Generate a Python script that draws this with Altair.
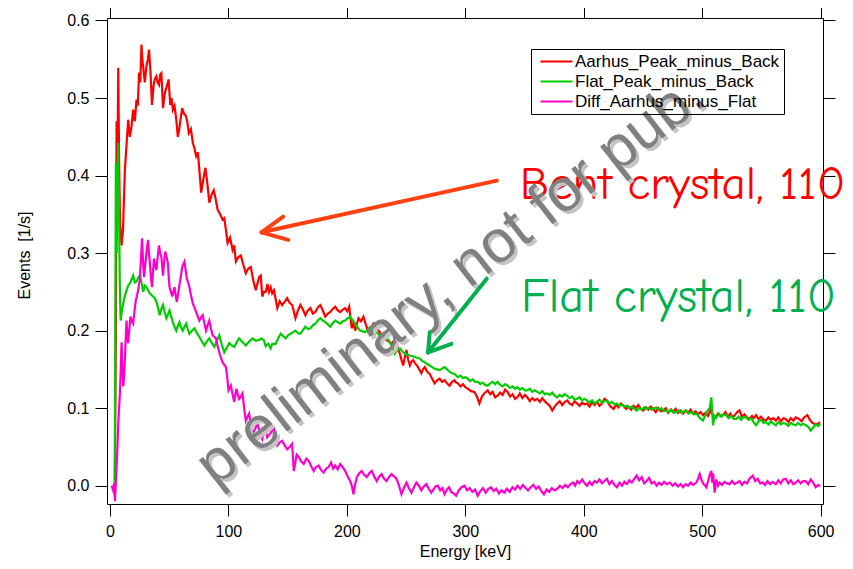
import altair as alt
import pandas as pd

SERIES = ["Aarhus_Peak_minus_Back", "Flat_Peak_minus_Back", "Diff_Aarhus_minus_Flat"]
COLORS = ["#ff0000", "#00cc00", "#ff00cc"]

aarhus = [
    (4, -0.01), (5, 0.20), (5.6, 0.47), (6.3, 0.40), (7, 0.539), (7.7, 0.42), (8.5, 0.34), (9.8, 0.31),
    (11, 0.33), (12.6, 0.407), (14, 0.44), (15.4, 0.472), (16.8, 0.45), (18.2, 0.463), (19.6, 0.485),
    (21, 0.47), (22.4, 0.498), (23.5, 0.49), (24.6, 0.533), (25.6, 0.52), (26.6, 0.569), (27.3, 0.55),
    (28, 0.541), (29.4, 0.52), (30.8, 0.541), (32, 0.55), (33, 0.5625), (34.1, 0.537), (35.5, 0.491),
    (36.9, 0.517), (38, 0.525), (39.2, 0.528), (40.3, 0.52), (41.4, 0.517), (42.4, 0.53), (43.4, 0.532),
    (44.8, 0.487), (45.8, 0.50), (46.7, 0.509), (48, 0.515), (49.5, 0.524), (50.9, 0.491), (52, 0.50),
    (53.1, 0.485), (54.5, 0.49), (56, 0.472), (57.3, 0.45), (58.5, 0.46), (59.8, 0.475), (61, 0.487),
    (62.4, 0.48), (63.8, 0.478), (65.2, 0.47), (66.6, 0.455), (68.3, 0.46), (70, 0.442), (71.4, 0.435),
    (72.8, 0.425), (74.2, 0.43), (75.5, 0.407), (77, 0.378), (78.8, 0.395), (80.6, 0.41), (82.2, 0.39),
    (83.9, 0.365), (85.7, 0.375), (87.6, 0.381), (89.2, 0.37), (90.9, 0.356), (93, 0.35), (95.1, 0.343),
    (96.5, 0.345), (97.9, 0.33), (99.3, 0.313), (101.4, 0.32), (103.5, 0.304), (104.9, 0.31),
    (106.3, 0.289), (108.4, 0.295), (110.5, 0.297), (112.6, 0.285), (114.7, 0.274), (116.8, 0.28),
    (118.9, 0.282), (121, 0.265), (123.1, 0.252), (125.9, 0.269), (127.3, 0.271), (128.6, 0.244),
    (130, 0.25), (131.5, 0.25), (133, 0.26), (134.3, 0.25), (135.7, 0.256), (137, 0.248), (138.5, 0.252),
    (140, 0.24), (141.3, 0.229), (143.3, 0.238), (145.4, 0.233), (147.5, 0.237), (149.6, 0.242),
    (151.7, 0.236), (153.8, 0.233), (155.2, 0.225), (156.6, 0.216), (158.7, 0.226), (160.8, 0.233),
    (163, 0.227), (165, 0.22), (167.1, 0.226), (169.2, 0.229), (171.3, 0.222), (173.5, 0.224),
    (175.5, 0.230), (177.6, 0.233), (179.7, 0.226), (181.8, 0.218), (184, 0.222), (186, 0.224),
    (188.1, 0.228), (190.2, 0.231), (192.3, 0.226), (194.4, 0.224), (196.5, 0.227), (198.6, 0.229),
    (200.3, 0.225), (202, 0.231), (203.1, 0.215), (204.2, 0.203), (205.6, 0.21), (207, 0.2),
    (208.4, 0.208), (209.8, 0.216), (212, 0.212), (214, 0.218), (216, 0.208), (218.2, 0.198),
    (220.3, 0.204), (222.4, 0.209), (223.8, 0.206), (225.2, 0.203), (227.3, 0.199), (229.4, 0.194),
    (231.5, 0.19), (233.5, 0.1875), (235.6, 0.186), (237.7, 0.183), (239.8, 0.187), (241.9, 0.185),
    (243.3, 0.176), (244.8, 0.17), (246.2, 0.162), (247.5, 0.155), (248.9, 0.165), (250.3, 0.175),
    (251.7, 0.163), (253.2, 0.155), (254.6, 0.16), (256, 0.162), (258, 0.157), (260.1, 0.153),
    (261.5, 0.149), (262.9, 0.145), (264.3, 0.15), (265.8, 0.153), (267.9, 0.147), (270, 0.144),
    (272, 0.138), (274.1, 0.132), (276.2, 0.136), (278.3, 0.138), (280.4, 0.134), (282.5, 0.136),
    (284.6, 0.132), (286.7, 0.129), (288.8, 0.134), (290.9, 0.136), (292.3, 0.133), (293.7, 0.132),
    (296, 0.128), (298, 0.131), (300, 0.127), (302.1, 0.125), (304.9, 0.122), (307.7, 0.121),
    (309.8, 0.115), (311.9, 0.106), (314, 0.115), (316.5, 0.12), (318.9, 0.123), (321, 0.118),
    (323, 0.121), (325.2, 0.114), (327.3, 0.116), (329.4, 0.12), (331.5, 0.117), (333.6, 0.124),
    (335.7, 0.121), (337.8, 0.115), (339.9, 0.118), (342, 0.112), (344, 0.114), (346, 0.119),
    (348.2, 0.113), (350.3, 0.117), (352.4, 0.114), (354.5, 0.109), (356.6, 0.113), (358.7, 0.11),
    (360.8, 0.112), (363, 0.108), (365, 0.113), (367, 0.109), (369.2, 0.106), (371.3, 0.103),
    (373.4, 0.097), (375.5, 0.102), (377.6, 0.106), (379.7, 0.109), (381.8, 0.104), (383.9, 0.108),
    (386, 0.11), (388, 0.106), (390.2, 0.104), (392.3, 0.109), (394.4, 0.106), (396.5, 0.103),
    (398.6, 0.107), (400.7, 0.105), (402.8, 0.106), (404.9, 0.102), (407, 0.108), (409.1, 0.104),
    (411.2, 0.108), (413.3, 0.103), (415.4, 0.106), (417.5, 0.112), (419.6, 0.11), (421.7, 0.104),
    (423.5, 0.101), (425.2, 0.099), (427.3, 0.104), (429.4, 0.101), (431.5, 0.106), (433.6, 0.103),
    (435.7, 0.099), (437.8, 0.102), (440, 0.098), (442, 0.103), (444, 0.1), (446, 0.104),
    (448.2, 0.099), (450.3, 0.097), (452.4, 0.101), (454.5, 0.098), (456.6, 0.102), (458.7, 0.099),
    (460.8, 0.095), (463, 0.1), (465, 0.096), (467.1, 0.097), (469.2, 0.1), (471.3, 0.094),
    (473.4, 0.098), (475.5, 0.095), (477.6, 0.099), (479.7, 0.094), (481.8, 0.097), (483.9, 0.093),
    (486, 0.097), (488.1, 0.094), (490.2, 0.098), (492.3, 0.093), (494.4, 0.096), (496.5, 0.092),
    (498.6, 0.095), (500.7, 0.091), (502.8, 0.094), (504.9, 0.09), (507, 0.097), (509.1, 0.091),
    (511.2, 0.088), (513.3, 0.093), (515.4, 0.09), (517.5, 0.091), (519.6, 0.095), (521.7, 0.089),
    (523.8, 0.093), (525.9, 0.088), (528, 0.092), (529.5, 0.095), (531.5, 0.097), (533.5, 0.089),
    (535.7, 0.092), (537.8, 0.088), (539.9, 0.086), (542, 0.09), (543.5, 0.087), (545.5, 0.091),
    (547.5, 0.086), (549.6, 0.089), (551.7, 0.085), (553.8, 0.084), (555.9, 0.088), (558, 0.085),
    (560.1, 0.087), (562.2, 0.084), (564.3, 0.088), (566.4, 0.083), (568.5, 0.087), (570.6, 0.086),
    (572.7, 0.082), (574.8, 0.087), (576.9, 0.084), (579, 0.088), (581.8, 0.086), (583.9, 0.083),
    (586, 0.088), (588.8, 0.091), (590.9, 0.085), (593, 0.081), (595.8, 0.079), (598, 0.08), (599.5, 0.082),
]

flat = [
    (4, -0.01), (5, 0.416), (5.6, 0.30), (6.3, 0.38), (7, 0.442), (7.7, 0.35), (8.3, 0.26), (9, 0.213),
    (10, 0.225), (11.2, 0.235), (12.6, 0.245), (14, 0.252), (15.4, 0.258), (16.8, 0.261), (18.2, 0.266),
    (19.6, 0.271), (21, 0.262), (22.4, 0.263), (23.8, 0.268), (25.2, 0.271), (26.6, 0.262), (28, 0.25),
    (29.4, 0.258), (30.8, 0.256), (32.2, 0.252), (33.6, 0.248), (35, 0.246), (36.4, 0.244), (37.8, 0.242),
    (39.2, 0.237), (40.6, 0.229), (42, 0.22), (43.4, 0.228), (44.8, 0.233), (46.2, 0.224), (47.6, 0.216),
    (49, 0.221), (50.3, 0.226), (51.7, 0.218), (53.1, 0.211), (54.5, 0.205), (56, 0.2), (57.3, 0.206),
    (58.7, 0.211), (60.1, 0.204), (61.5, 0.2), (62.9, 0.205), (64.3, 0.209), (65.7, 0.202), (67.1, 0.196),
    (69.2, 0.2), (71.3, 0.203), (73.4, 0.197), (75.5, 0.192), (77.6, 0.186), (79.7, 0.181), (81.8, 0.186),
    (83.9, 0.19), (86, 0.184), (88.1, 0.179), (90.2, 0.187), (92.3, 0.194), (94.4, 0.182), (96.5, 0.172),
    (98.6, 0.178), (100.7, 0.184), (102.8, 0.181), (104.9, 0.179), (107, 0.185), (109, 0.19),
    (111.9, 0.185), (114.7, 0.181), (117.5, 0.186), (120.3, 0.19), (123.1, 0.187), (125.9, 0.188),
    (128, 0.19), (130, 0.1875), (131.5, 0.18), (133.6, 0.183), (135.7, 0.177), (137, 0.183),
    (139.9, 0.183), (142, 0.19), (144.1, 0.196), (146.2, 0.193), (148.3, 0.19), (150.4, 0.194),
    (152.5, 0.196), (154.6, 0.198), (156.6, 0.2), (158.7, 0.197), (160.8, 0.196), (163, 0.201),
    (165, 0.205), (167.1, 0.202), (169.2, 0.203), (171.3, 0.207), (173.5, 0.209), (175.5, 0.213),
    (177.6, 0.216), (179.7, 0.213), (181.8, 0.211), (184, 0.208), (186, 0.205), (188.1, 0.21),
    (190.2, 0.213), (192.3, 0.211), (194.4, 0.209), (196.5, 0.212), (198.6, 0.213), (200.7, 0.216),
    (202.8, 0.218), (205, 0.213), (207, 0.209), (209.1, 0.204), (211.2, 0.2), (213.3, 0.199),
    (215.4, 0.198), (217.5, 0.201), (219, 0.204), (221, 0.2), (223, 0.197), (225.2, 0.198),
    (227.3, 0.194), (229.4, 0.19), (231.5, 0.193), (233.5, 0.192), (235.6, 0.186), (237.7, 0.181),
    (239.1, 0.176), (240.5, 0.17), (242.6, 0.175), (244.8, 0.177), (246.9, 0.173), (249, 0.17),
    (251.1, 0.169), (253.2, 0.168), (255.3, 0.167), (257.3, 0.166), (259.4, 0.165), (261.5, 0.164),
    (263.6, 0.161), (265.8, 0.159), (267.9, 0.157), (270, 0.155), (272, 0.153), (274.1, 0.151),
    (276.2, 0.15), (278.3, 0.149), (280.4, 0.151), (282.5, 0.153), (284.6, 0.15), (286.7, 0.147),
    (288.8, 0.145), (290.9, 0.144), (293.7, 0.14), (296, 0.142), (298, 0.139), (300, 0.14),
    (302.1, 0.138), (304, 0.135), (306.3, 0.137), (308.4, 0.134), (310.5, 0.134), (312.6, 0.131),
    (314.7, 0.133), (316.8, 0.13), (318.9, 0.129), (321, 0.132), (323.1, 0.134), (325.2, 0.131),
    (327.3, 0.134), (329.4, 0.13), (331.5, 0.128), (333.6, 0.131), (335.7, 0.129), (337.8, 0.126),
    (340, 0.128), (342, 0.125), (344, 0.127), (346, 0.124), (348.2, 0.126), (350.3, 0.123),
    (352.4, 0.123), (354.5, 0.125), (356.6, 0.121), (358.7, 0.123), (360.8, 0.121), (363, 0.119),
    (365, 0.122), (367, 0.118), (369.2, 0.119), (371.3, 0.117), (373.4, 0.12), (375.5, 0.116),
    (377.6, 0.114), (379.7, 0.117), (381.8, 0.115), (383.9, 0.118), (386, 0.116), (388, 0.113),
    (390.2, 0.115), (392.3, 0.111), (394.4, 0.112), (396.5, 0.114), (398.6, 0.11), (400.7, 0.112),
    (402.8, 0.11), (404.9, 0.107), (407, 0.11), (409.1, 0.106), (411.2, 0.108), (413.3, 0.111),
    (415.4, 0.107), (417.5, 0.109), (419.6, 0.11), (421.7, 0.106), (423.8, 0.108), (426, 0.105),
    (428, 0.106), (430, 0.103), (432.2, 0.105), (434.3, 0.102), (436.4, 0.103), (438.5, 0.1),
    (440.6, 0.102), (442.7, 0.099), (444.7, 0.097), (446.8, 0.1), (449, 0.098), (451, 0.101),
    (453.1, 0.099), (455.2, 0.101), (457.3, 0.098), (459.4, 0.1), (461.5, 0.101), (463.6, 0.098),
    (465.7, 0.1), (467.8, 0.096), (469.9, 0.097), (472, 0.095), (474.1, 0.098), (476.2, 0.094),
    (478.3, 0.095), (480.4, 0.097), (482.5, 0.094), (484.6, 0.096), (486.7, 0.097), (488.8, 0.093),
    (490.9, 0.095), (493, 0.092), (495.1, 0.093), (497.2, 0.089), (498.8, 0.086), (500.7, 0.084),
    (502.3, 0.09), (503.5, 0.094), (504.9, 0.097), (506.3, 0.1), (507.7, 0.114), (508.4, 0.098),
    (509.1, 0.078), (510.5, 0.09), (511.9, 0.088), (514, 0.093), (516.1, 0.089), (518.2, 0.092),
    (520.3, 0.091), (522.4, 0.087), (524.5, 0.09), (526.6, 0.086), (528.7, 0.086), (530.8, 0.089),
    (532.9, 0.085), (535, 0.089), (537.1, 0.088), (539.2, 0.085), (541.3, 0.087), (543.4, 0.082),
    (545.5, 0.078), (547.6, 0.083), (549.7, 0.085), (551.8, 0.081), (553.8, 0.082), (556, 0.079),
    (558, 0.083), (560.1, 0.08), (562.2, 0.078), (564.3, 0.082), (566.4, 0.079), (568.5, 0.081),
    (570.6, 0.08), (572.7, 0.077), (574.8, 0.081), (576.9, 0.079), (579, 0.078), (581.1, 0.081),
    (583.2, 0.078), (585.3, 0.08), (587.4, 0.078), (589.5, 0.076), (591.6, 0.071), (593.7, 0.075),
    (595.8, 0.079), (598, 0.077), (599.5, 0.08),
]

diff = [
    (1.4, 0.0), (2.5, -0.005), (3.5, 0.003), (4.2, -0.02), (5, 0.005), (5.6, 0.024), (6.3, 0.05),
    (7, 0.08), (7.7, 0.1), (8.4, 0.119), (9.1, 0.15), (9.8, 0.185), (10.5, 0.15), (11.2, 0.128),
    (11.9, 0.14), (12.6, 0.162), (13.3, 0.19), (14, 0.213), (14.7, 0.195), (15.4, 0.184), (16.3, 0.2),
    (17.3, 0.218), (18.5, 0.212), (19.6, 0.209), (20.7, 0.225), (21.8, 0.239), (22.8, 0.245),
    (23.8, 0.252), (24.5, 0.26), (25.2, 0.265), (26.1, 0.29), (27.1, 0.319), (27.9, 0.29), (28.8, 0.269),
    (29.8, 0.285), (30.8, 0.30), (31.5, 0.31), (32.2, 0.317), (32.9, 0.30), (33.6, 0.289), (34.5, 0.27),
    (35.5, 0.256), (36.3, 0.275), (37.2, 0.293), (38.2, 0.285), (39.2, 0.278), (40.3, 0.295),
    (41.4, 0.31), (42.4, 0.30), (43.4, 0.295), (44.1, 0.283), (44.8, 0.271), (45.8, 0.29), (46.7, 0.302),
    (47.8, 0.295), (48.9, 0.287), (49.6, 0.27), (50.3, 0.256), (51.5, 0.25), (52.6, 0.244), (53.5, 0.25),
    (54.5, 0.256), (55.5, 0.245), (56.5, 0.237), (57.6, 0.248), (58.7, 0.259), (59.8, 0.27), (61, 0.282),
    (62, 0.286), (62.9, 0.289), (63.9, 0.278), (64.9, 0.267), (66, 0.262), (67.1, 0.256), (68.5, 0.245),
    (69.9, 0.235), (71.3, 0.23), (72.8, 0.224), (74.2, 0.218), (75.5, 0.213), (76.9, 0.217), (78.3, 0.22),
    (79.7, 0.21), (81.1, 0.2), (82.5, 0.207), (83.9, 0.213), (85.3, 0.202), (86.7, 0.194), (88.1, 0.192),
    (89.5, 0.19), (90.9, 0.18), (92.3, 0.172), (93.7, 0.165), (95.1, 0.159), (96.5, 0.156), (97.9, 0.153),
    (99, 0.14), (100.1, 0.123), (101.1, 0.126), (102.1, 0.129), (103.5, 0.118), (104.9, 0.108),
    (105.8, 0.117), (106.8, 0.125), (107.9, 0.118), (109, 0.112), (110.5, 0.115), (111.9, 0.119),
    (113.3, 0.1), (114.7, 0.084), (116.1, 0.089), (117.5, 0.093), (118.9, 0.08), (120.3, 0.067),
    (121.7, 0.071), (123.1, 0.075), (124.5, 0.08), (125.9, 0.072), (127.2, 0.065), (128.6, 0.06),
    (130, 0.07), (131.5, 0.075), (132.8, 0.0625), (134.3, 0.065), (135.7, 0.068), (137, 0.071),
    (138.5, 0.074), (139.9, 0.062), (141.3, 0.052), (143.4, 0.056), (145.4, 0.058), (147.5, 0.052),
    (149.6, 0.047), (151.7, 0.05), (153.8, 0.054), (155.2, 0.019), (156.5, 0.03), (157.6, 0.04),
    (159.4, 0.037), (161.5, 0.031), (163.6, 0.028), (165.7, 0.035), (167.8, 0.032), (169.9, 0.025),
    (172, 0.019), (174, 0.024), (176.2, 0.026), (178.3, 0.02), (180.4, 0.017), (182.5, 0.022),
    (184.6, 0.024), (186.7, 0.03), (188.4, 0.022), (190.2, 0.026), (192.3, 0.021), (194.4, 0.028),
    (196.5, 0.024), (198.6, 0.019), (200.7, 0.012), (202.8, 0.006), (204.2, 0.0), (205.6, -0.011),
    (207, 0.002), (208.4, 0.011), (210.5, 0.016), (212.5, 0.019), (214.6, 0.014), (216.8, 0.011),
    (218.9, 0.016), (221, 0.019), (223.1, 0.012), (225.2, 0.006), (227.3, 0.012), (229.4, 0.015),
    (231.5, 0.009), (233.5, 0.006), (235.6, 0.011), (237.7, 0.015), (239.8, 0.012), (241.9, 0.009),
    (244, 0.0), (246.1, -0.011), (248.2, -0.003), (250.3, 0.004), (252.4, -0.003), (254.5, -0.009),
    (256.6, -0.002), (258.7, 0.004), (260.8, 0.0), (262.9, -0.006), (265, -0.001), (267.1, 0.002),
    (269.2, -0.004), (271.3, -0.009), (273.4, -0.004), (274.8, -0.001), (276.9, 0.0), (278.8, -0.006),
    (280.7, -0.003), (282.5, -0.011), (284.4, -0.005), (286.3, -0.002), (288.1, -0.008), (290.2, -0.01),
    (292.3, -0.013), (294.5, -0.006), (296.8, -0.002), (299.3, 0.0), (301.5, -0.006), (303.7, -0.003),
    (306, -0.008), (308.2, -0.005), (310.5, -0.013), (312.7, -0.007), (314.9, -0.003), (317.2, -0.009),
    (319.5, -0.004), (321.7, -0.002), (324, -0.007), (326.2, -0.004), (328.4, -0.01), (330.6, -0.006),
    (332.9, -0.009), (335, -0.004), (337.5, -0.008), (339.8, -0.002), (342, -0.005), (344, 0.0),
    (346.4, -0.004), (348.6, 0.001), (350.9, -0.003), (353, -0.006), (355.2, -0.002), (357.5, 0.001),
    (359.8, -0.004), (362, -0.001), (364.2, -0.007), (366.4, -0.011), (368.6, -0.005), (370.8, -0.008),
    (373, -0.003), (375.3, -0.006), (377.6, -0.004), (379.9, 0.0), (382.1, -0.003), (384.4, 0.001),
    (386.6, -0.002), (388.8, 0.002), (391, 0.004), (392.7, 0.0), (394.4, 0.006), (396.5, 0.003),
    (398.6, 0.008), (400.7, 0.003), (402.8, 0.0), (404.9, 0.005), (407, 0.001), (409.1, 0.006),
    (411.2, 0.004), (413.3, 0.008), (415.4, 0.003), (417.5, 0.006), (419.6, 0.009), (421.7, 0.002),
    (423.8, 0.006), (426, 0.001), (428, -0.002), (430.2, 0.004), (432.3, 0.0), (434.3, 0.005),
    (436.4, 0.002), (438.5, 0.007), (440.6, 0.004), (442.7, 0.009), (444.7, 0.013), (446.8, 0.007),
    (449, 0.011), (451, 0.003), (453.1, 0.006), (455.2, 0.01), (457.3, 0.003), (459.4, 0.005),
    (461.5, 0.0), (463.6, 0.004), (465.7, 0.001), (467.8, 0.005), (470, 0.002), (472.7, 0.004),
    (475, 0.0), (477.3, 0.003), (479.6, -0.001), (481.8, 0.002), (483.9, -0.002), (486, 0.002),
    (488.1, 0.0), (490.2, 0.004), (492.3, 0.001), (495.1, 0.004), (496.8, 0.01), (497.9, 0.015),
    (499.5, 0.007), (501.2, 0.002), (503.5, -0.002), (505, 0.006), (506.3, 0.014), (507.7, 0.019),
    (508.5, 0.004), (509.3, 0.016), (510.5, -0.009), (511.9, 0.008), (513.3, 0.0), (514.7, 0.004),
    (516.8, 0.001), (518.9, 0.005), (521, 0.003), (523.1, 0.002), (525.2, 0.006), (527.3, 0.002),
    (529.4, 0.004), (531.5, 0.006), (533.6, 0.001), (535.7, 0.005), (537.8, 0.003), (539.9, 0.009),
    (542.7, 0.013), (544.8, 0.006), (546.9, 0.009), (549, 0.003), (551, 0.004), (553.1, 0.001),
    (555.2, 0.006), (557.3, 0.002), (559.4, 0.005), (562.2, 0.002), (564.3, 0.007), (566.4, 0.003),
    (568.5, 0.008), (570.6, 0.009), (572.7, 0.003), (574.8, 0.007), (576.9, 0.002), (579, 0.004),
    (581.1, 0.007), (583.2, 0.003), (585.3, 0.006), (587.4, 0.006), (589.5, 0.002), (591.6, 0.008),
    (593.7, 0.004), (595.8, -0.002), (598, 0.001), (599.5, -0.001),
]

X_TICKS = [0, 100, 200, 300, 400, 500, 600]
Y_TICKS = [0.0, 0.1, 0.2, 0.3, 0.4, 0.5, 0.6]

ANN_TEXT = ["Bent crystal, 110", "Flat crystal, 110"]
ANN_E = [346, 347]
ANN_V = [0.388, 0.2426]
ANN_SIZE = [47, 48]
ANN_COLOR = ["#ff0000", "#00b050"]

# arrow segments: (E1, v1, E2, v2, color)
ARROWS = [
    (326.6, 0.3935, 128.0, 0.3268, "#ff4010"),
    (128.0, 0.3268, 146.2, 0.347, "#ff4010"),
    (128.0, 0.3268, 150.5, 0.317, "#ff4010"),
    (318.1, 0.267, 268.6, 0.172, "#00b050"),
    (268.6, 0.172, 270.0, 0.198, "#00b050"),
    (268.6, 0.172, 288.3, 0.183, "#00b050"),
]

WM_TEXT = "preliminary, not for pub."

rows = []
for name, pts in zip(SERIES, [aarhus, flat, diff]):
    for e, v in pts:
        rows.append({"E": e, "v": v, "series": name})
df = pd.DataFrame(rows)

xs = alt.Scale(domain=[-2.5, 602], nice=False, zero=False)
ys = alt.Scale(domain=[-0.0236, 0.6032], nice=False, zero=False)

FONT = "Liberation Sans"

lines = alt.Chart(df).mark_line(strokeWidth=2.2, clip=True).encode(
    x=alt.X("E:Q", scale=xs, axis=alt.Axis(
        orient="bottom", values=X_TICKS, tickSize=12, labelPadding=7, domain=False,
        title="Energy [keV]", titleX=358, titleY=52, titleBaseline="alphabetic",
        titleAnchor="middle")),
    y=alt.Y("v:Q", scale=ys, axis=alt.Axis(
        orient="left", values=Y_TICKS, format=".1f", tickSize=12, labelPadding=6, domain=False,
        title="Events \u00a0[1/s]", titleX=-78, titleY=237, titleAngle=270,
        titleBaseline="alphabetic", titleAlign="center")),
    color=alt.Color("series:N", sort=SERIES, scale=alt.Scale(domain=SERIES, range=COLORS),
                    legend=alt.Legend(
                        title=None, orient="none", legendX=424, legendY=31,
                        direction="vertical",
                        strokeColor="black", padding=4,
                        symbolType="M-0.6,0H5.8", symbolSize=100, symbolStrokeWidth=2,
                        labelFontSize=17, labelFont=FONT, labelLimit=400, labelOffset=23,
                        rowPadding=2)),
    order=alt.Order("E:Q"),
)

helper = alt.Chart(pd.DataFrame({"E": [0], "v": [0]})).mark_point(opacity=0).encode(
    x=alt.X("E:Q", scale=xs, axis=alt.Axis(orient="top", values=X_TICKS, labels=False,
                                           tickSize=12, domain=False, title=None)),
    y=alt.Y("v:Q", scale=ys, axis=alt.Axis(orient="right", values=Y_TICKS, labels=False,
                                           tickSize=12, domain=False, title=None)),
)

ann_df = pd.DataFrame({"t": ANN_TEXT, "E": ANN_E, "v": ANN_V, "c": ANN_COLOR, "s": ANN_SIZE})
ann = alt.Chart(ann_df).mark_text(
    align="left", baseline="middle",
    font="Comic Sans MS, Comic Neue, DejaVu Sans, sans-serif").encode(
    x=alt.X("E:Q", scale=xs, axis=None),
    y=alt.Y("v:Q", scale=ys, axis=None),
    text="t:N",
    size=alt.Size("s:Q", scale=None, legend=None),
    color=alt.Color("c:N", scale=None, legend=None),
)

wm_df = pd.DataFrame({
    "t": [WM_TEXT, WM_TEXT],
    "E": [290.3, 287.8],
    "v": [0.2606, 0.2645],
    "c": ["#c4c4c4", "#808080"],
    "o": [0, 1],
})
wm = alt.Chart(wm_df).mark_text(
    angle=322, align="center", baseline="middle", fontSize=60, font=FONT).encode(
    x=alt.X("E:Q", scale=xs, axis=None),
    y=alt.Y("v:Q", scale=ys, axis=None),
    text="t:N",
    color=alt.Color("c:N", scale=None, legend=None),
    order=alt.Order("o:Q"),
)

arr_df = pd.DataFrame(ARROWS, columns=["E1", "v1", "E2", "v2", "c"])
arrows = alt.Chart(arr_df).mark_rule(strokeWidth=4, strokeCap="round").encode(
    x=alt.X("E1:Q", scale=xs, axis=None),
    y=alt.Y("v1:Q", scale=ys, axis=None),
    x2="E2:Q",
    y2="v2:Q",
    color=alt.Color("c:N", scale=None, legend=None),
)

chart = alt.layer(lines, helper, ann, wm, arrows).resolve_axis(
    x="independent", y="independent"
).resolve_scale(color="independent", size="independent").properties(
    width=716, height=486,
    background="white",
    autosize=alt.AutoSizeParams(type="none"),
    padding={"left": 99, "top": 10, "right": 22, "bottom": 57},
).configure_view(
    stroke="black", strokeWidth=1
).configure_axis(
    grid=False, tickColor="black", tickWidth=1, labelColor="black",
    labelFont=FONT, labelFontSize=16, titleFont=FONT, titleFontSize=16,
    titleFontWeight="normal", titleColor="black",
)

chart.save("out.html", embed_options={"renderer": "svg", "actions": False})
